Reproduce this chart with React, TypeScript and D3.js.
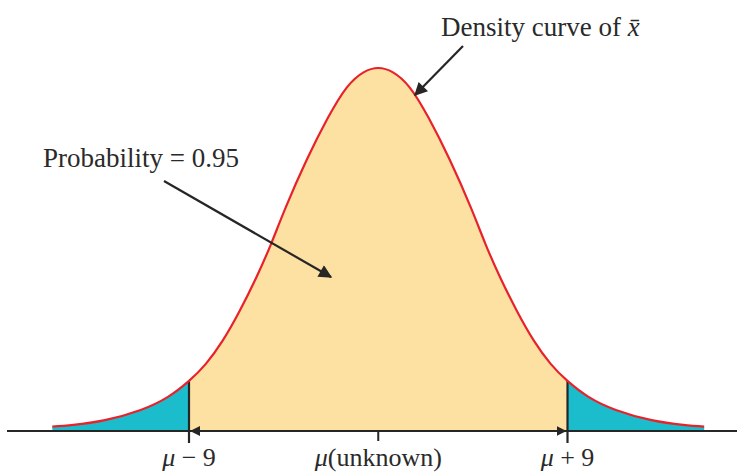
import React from "react";
import * as d3 from "d3";

// Curve: offset from mu (x) and height relative to the peak (h)
const curveX = [-15.5, -14.5, -13, -11.3, -10, -9, -8.2, -7.4, -6.6, -5.8, -5.1, -4.4, -3.4, -2.4, -1.5, -0.7, 0, 0.7, 1.5, 2.4, 3.4, 4.4, 5.1, 5.8, 6.6, 7.4, 8.2, 9, 10, 11.3, 13, 14.5, 15.5];
const curveH = [0.012, 0.017, 0.03, 0.058, 0.094, 0.138, 0.185, 0.249, 0.33, 0.423, 0.515, 0.616, 0.747, 0.862, 0.946, 0.988, 1.0, 0.988, 0.946, 0.862, 0.747, 0.616, 0.515, 0.423, 0.33, 0.249, 0.185, 0.138, 0.094, 0.058, 0.03, 0.017, 0.012];
const lowerLimit = -9;
const upperLimit = 9;
const tickValues = [-9, 0, 9];
const tickLabels = ["−", "(unknown)", "+"];

const W = 737;
const H = 473;

export default function App() {
  const x = d3.scaleLinear().domain([lowerLimit, upperLimit]).range([189, 567.5]);
  const y = d3.scaleLinear().domain([0, 1]).range([431, 68]);
  const pts = curveX.map((v, i) => [v, curveH[i]] as [number, number]);

  const area = d3
    .area<[number, number]>()
    .x((d) => x(d[0]))
    .y0(y(0))
    .y1((d) => y(d[1]))
    .curve(d3.curveNatural);
  const line = d3
    .line<[number, number]>()
    .x((d) => x(d[0]))
    .y((d) => y(d[1]))
    .curve(d3.curveNatural);

  const hAt = (v: number) => curveH[curveX.indexOf(v)];
  const font = "'Liberation Serif', 'Times New Roman', serif";
  const ink = "#262626";

  return (
    <svg width={W} height={H} style={{ position: "absolute", left: 0, top: 0, background: "#fff" }} fontFamily={font}>
      <defs>
        <clipPath id="mid">
          <rect x={x(lowerLimit)} y={0} width={x(upperLimit) - x(lowerLimit)} height={H} />
        </clipPath>
        <marker id="ah" viewBox="0 0 10 10" refX="9" refY="5" markerWidth="7" markerHeight="6" orient="auto-start-reverse" markerUnits="strokeWidth">
          <path d="M0,0 L10,5 L0,10 z" fill={ink} />
        </marker>
        <marker id="ahs" viewBox="0 0 10 10" refX="9" refY="5" markerWidth="5" markerHeight="5" orient="auto-start-reverse" markerUnits="strokeWidth">
          <path d="M0,0 L10,5 L0,10 z" fill={ink} />
        </marker>
      </defs>

      {/* tails */}
      <path d={area(pts) || ""} fill="#1bbdcd" />
      {/* central 95% */}
      <path d={area(pts) || ""} fill="#fde1a3" clipPath="url(#mid)" />

      {/* axis */}
      <line x1={7} x2={W} y1={y(0)} y2={y(0)} stroke={ink} strokeWidth={2} />
      <line x1={x(0)} x2={x(0)} y1={y(0)} y2={y(0) + 10} stroke={ink} strokeWidth={2} />

      {/* limits */}
      {[lowerLimit, upperLimit].map((v) => (
        <line key={v} x1={x(v)} x2={x(v)} y1={y(hAt(v))} y2={y(0) + 12} stroke={ink} strokeWidth={2.2} />
      ))}
      <line
        x1={x(lowerLimit) + 2}
        x2={x(upperLimit) - 2}
        y1={y(0)}
        y2={y(0)}
        stroke={ink}
        strokeWidth={2}
        markerStart="url(#ahs)"
        markerEnd="url(#ahs)"
      />

      {/* density curve */}
      <path d={line(pts) || ""} fill="none" stroke="#e8222b" strokeWidth={2.2} />

      {/* tick labels */}
      {tickValues.map((v, i) => (
        <text key={v} x={x(v)} y={466} fontSize={26} textAnchor="middle" fill="#2a2a2a">
          <tspan fontStyle="italic">μ</tspan>
          {i === 1 ? tickLabels[i] : <tspan>{" " + tickLabels[i] + " 9"}</tspan>}
        </text>
      ))}

      {/* annotations */}
      <text x={441} y={36} fontSize={27} fill="#2a2a2a">
        Density curve of <tspan fontStyle="italic">x{"\u0304"}</tspan>
      </text>
      <line x1={463} y1={46} x2={415} y2={95} stroke={ink} strokeWidth={2.2} markerEnd="url(#ah)" />

      <text x={43} y={167} fontSize={27} fill="#2a2a2a">
        Probability = 0.95
      </text>
      <line x1={164} y1={181} x2={331} y2={277} stroke={ink} strokeWidth={2.2} markerEnd="url(#ah)" />
    </svg>
  );
}
